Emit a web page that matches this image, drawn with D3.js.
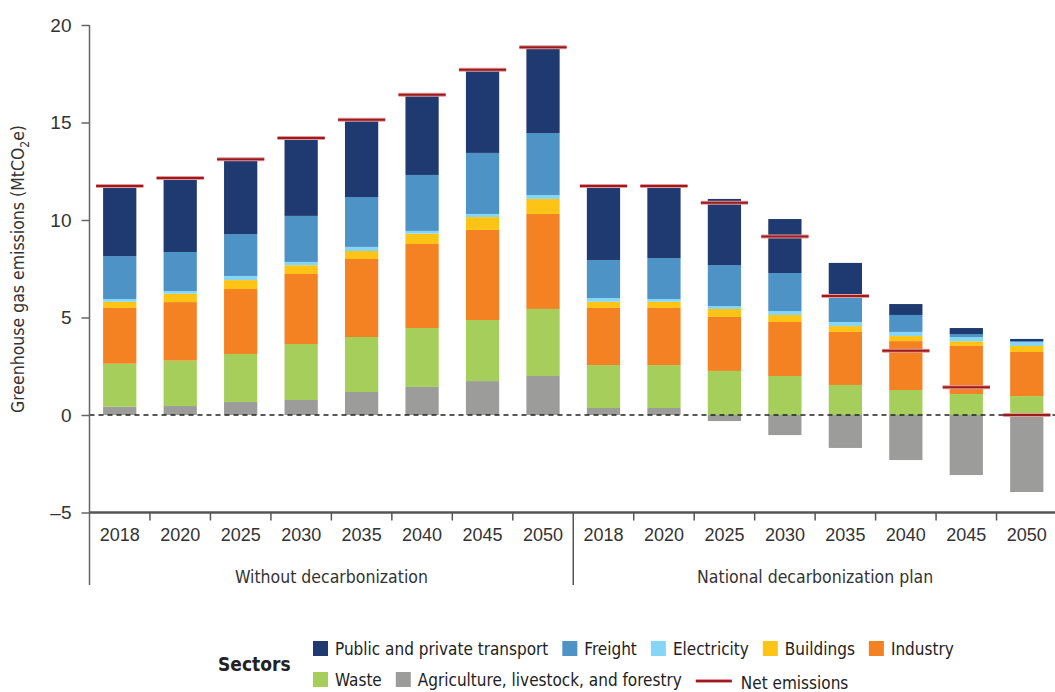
<!DOCTYPE html>
<html>
<head>
<meta charset="utf-8">
<script src="https://cdn.jsdelivr.net/npm/d3@7"></script>
<style>
  body { margin: 0; background: #fff; }
  svg { font-family: "Liberation Sans Narrow", "DejaVu Sans Condensed", "Roboto", sans-serif; }
</style>
</head>
<body>
<svg id="chart" width="1055" height="692"></svg>
<script>
// Years shown for each scenario
const years = ["2018", "2020", "2025", "2030", "2035", "2040", "2045", "2050"];
const scenarios = ["Without decarbonization", "National decarbonization plan"];

// Sectors, bottom of the stack first
const sectorNames = ["Agriculture, livestock, and forestry", "Waste", "Industry", "Buildings", "Electricity", "Freight", "Public and private transport"];

// MtCO2e, first 8 = without decarbonization, last 8 = national plan
const agriculture = [0.43, 0.46, 0.67, 0.77, 1.18, 1.44, 1.74, 2.0, 0.36, 0.36, -0.31, -1.03, -1.69, -2.31, -3.08, -3.95];
const waste = [2.2, 2.33, 2.46, 2.87, 2.82, 3.02, 3.13, 3.44, 2.2, 2.2, 2.26, 2.0, 1.54, 1.28, 1.08, 0.97];
const industry = [2.86, 3.0, 3.33, 3.59, 4.0, 4.31, 4.62, 4.87, 2.93, 2.93, 2.77, 2.77, 2.72, 2.51, 2.46, 2.26];
const buildings = [0.32, 0.43, 0.46, 0.45, 0.41, 0.53, 0.66, 0.77, 0.32, 0.32, 0.41, 0.36, 0.3, 0.26, 0.24, 0.31];
const electricity = [0.14, 0.14, 0.21, 0.17, 0.21, 0.14, 0.16, 0.2, 0.19, 0.14, 0.15, 0.2, 0.21, 0.21, 0.22, 0.2];
const freight = [2.2, 2.0, 2.15, 2.36, 2.56, 2.87, 3.13, 3.18, 1.95, 2.1, 2.1, 1.95, 1.28, 0.87, 0.15, 0.05];
const transport = [3.64, 3.83, 3.88, 4.03, 4.05, 4.2, 4.3, 4.46, 3.84, 3.74, 3.39, 2.77, 1.75, 0.56, 0.31, 0.11];
const netEmissions = [11.75, 12.15, 13.12, 14.2, 15.14, 16.42, 17.7, 18.86, 11.75, 11.75, 10.88, 9.15, 6.1, 3.3, 1.42, 0];

const yTicks = [-5, 0, 5, 10, 15, 20];

const sectorColours = ["#9c9d9b", "#a5cf5a", "#f58222", "#fdc416", "#84d5f6", "#4e93c5", "#1f3a70"];
const sectorValues = [agriculture, waste, industry, buildings, electricity, freight, transport];

// build rows for d3.stack
const keys = [];
const rows = [];
scenarios.forEach((s, si) => {
  years.forEach((yr, yi) => {
    const i = si * years.length + yi;
    const row = { key: si + "-" + yr, year: yr, net: netEmissions[i] };
    sectorNames.forEach((n, k) => { row[n] = sectorValues[k][i]; });
    rows.push(row);
    keys.push(row.key);
  });
});

const svg = d3.select("#chart");
const margin = { left: 89.5, right: 1057, top: 25, bottom: 512.5 };

const x = d3.scaleBand()
  .domain(keys)
  .range([margin.left, margin.right])
  .paddingInner(0.45)
  .paddingOuter(0.225);

const y = d3.scaleLinear()
  .domain([-5, 20])
  .range([margin.bottom, margin.top]);

const stack = d3.stack()
  .keys(sectorNames)
  .offset(d3.stackOffsetDiverging);
const series = stack(rows);

// bars
svg.append("g")
  .selectAll("g")
  .data(series)
  .join("g")
    .attr("fill", (d, i) => sectorColours[i])
  .selectAll("rect")
  .data(d => d)
  .join("rect")
    .attr("x", d => x(d.data.key))
    .attr("width", x.bandwidth())
    .attr("y", d => y(Math.max(d[0], d[1])))
    .attr("height", d => Math.abs(y(d[0]) - y(d[1])));

// zero line
svg.append("line")
  .attr("x1", margin.left).attr("x2", 1055)
  .attr("y1", y(0)).attr("y2", y(0))
  .attr("stroke", "#222")
  .attr("stroke-width", 1.4)
  .attr("stroke-dasharray", "5,4");

// net emissions markers
const netW = x.bandwidth() * 1.42;
const netG = svg.append("g");
netG.selectAll("line.halo")
  .data(rows)
  .join("line")
    .attr("class", "halo")
    .attr("x1", d => x(d.key) + x.bandwidth() / 2 - netW / 2)
    .attr("x2", d => x(d.key) + x.bandwidth() / 2 + netW / 2)
    .attr("y1", d => y(d.net)).attr("y2", d => y(d.net))
    .attr("stroke", "#e29a9c")
    .attr("stroke-width", 4);
netG.selectAll("line.core")
  .data(rows)
  .join("line")
    .attr("class", "core")
    .attr("x1", d => x(d.key) + x.bandwidth() / 2 - netW / 2)
    .attr("x2", d => x(d.key) + x.bandwidth() / 2 + netW / 2)
    .attr("y1", d => y(d.net)).attr("y2", d => y(d.net))
    .attr("stroke", "#9b1b1f")
    .attr("stroke-width", 2);

// y axis
const yAxis = svg.append("g")
  .attr("transform", `translate(${margin.left},0)`)
  .call(d3.axisLeft(y).tickValues(yTicks).tickSize(8).tickPadding(10)
    .tickFormat(d => d < 0 ? "\u2013" + (-d) : d));
yAxis.select(".domain").attr("stroke", "#666").attr("stroke-width", 1.5)
  .attr("d", `M0,${margin.top}V585`);
yAxis.selectAll(".tick line").attr("stroke", "#666").attr("stroke-width", 1.5);
yAxis.selectAll(".tick text").attr("fill", "#333").style("font-size", "19px");

// x axis: year labels centred, ticks at band boundaries
const xAxis = svg.append("g")
  .attr("transform", `translate(0,${y(-5)})`)
  .call(d3.axisBottom(x).tickSize(0).tickPadding(16).tickFormat(k => k.split("-")[1]));
xAxis.select(".domain").attr("stroke", "#555").attr("stroke-width", 2.5)
  .attr("d", `M${margin.left},0H1055`);
xAxis.selectAll(".tick text").attr("fill", "#333").style("font-size", "18px");

const boundaries = keys.map(k => x(k) + x.bandwidth() / 2 + x.step() / 2);
xAxis.selectAll("line.sep")
  .data(boundaries)
  .join("line")
    .attr("class", "sep")
    .attr("x1", d => d).attr("x2", d => d)
    .attr("y1", 0)
    .attr("y2", (d, i) => i === years.length - 1 ? 585 - y(-5) : 8)
    .attr("stroke", "#555")
    .attr("stroke-width", 1.5);

// scenario group labels
svg.append("g")
  .selectAll("text")
  .data(scenarios)
  .join("text")
    .attr("x", (d, i) => {
      const first = x(i + "-" + years[0]);
      const last = x(i + "-" + years[years.length - 1]) + x.bandwidth();
      return (first + last) / 2;
    })
    .attr("y", 583)
    .attr("text-anchor", "middle")
    .attr("fill", "#333")
    .style("font-size", "17.5px")
    .text(d => d);

// y axis title
const yTitle = svg.append("text")
  .attr("transform", "translate(24,269) rotate(-90)")
  .attr("text-anchor", "middle")
  .attr("fill", "#333")
  .style("font-size", "17.5px");
yTitle.append("tspan").text("Greenhouse gas emissions (MtCO");
yTitle.append("tspan").attr("dy", 5).style("font-size", "12px").text("2");
yTitle.append("tspan").attr("dy", -5).text("e)");

// legend
const legend = svg.append("g");
legend.append("text")
  .attr("x", 218).attr("y", 671)
  .attr("font-weight", "bold")
  .attr("fill", "#222")
  .style("font-size", "19px")
  .text("Sectors");

const legendRows = [
  [6, 5, 4, 3, 2],
  [1, 0, "net"]
];
legendRows.forEach((items, r) => {
  let cx = 313;
  const cy = 649 + r * 31;
  items.forEach(it => {
    if (it === "net") {
      legend.append("line")
        .attr("x1", cx).attr("x2", cx + 36)
        .attr("y1", cy + 1).attr("y2", cy + 1)
        .attr("stroke", "#e29a9c").attr("stroke-width", 4);
      legend.append("line")
        .attr("x1", cx).attr("x2", cx + 36)
        .attr("y1", cy + 1).attr("y2", cy + 1)
        .attr("stroke", "#9b1b1f").attr("stroke-width", 2);
      cx += 45;
    } else {
      legend.append("rect")
        .attr("x", cx).attr("y", cy - 8)
        .attr("width", 15).attr("height", 15)
        .attr("fill", sectorColours[it]);
      cx += 22;
    }
    const t = legend.append("text")
      .attr("x", cx).attr("y", it === "net" ? cy + 9 : cy + 6)
      .attr("fill", "#222")
      .style("font-size", "17px")
      .text(it === "net" ? "Net emissions" : sectorNames[it]);
    cx += t.node().getComputedTextLength() + 14;
  });
});
</script>
</body>
</html>
